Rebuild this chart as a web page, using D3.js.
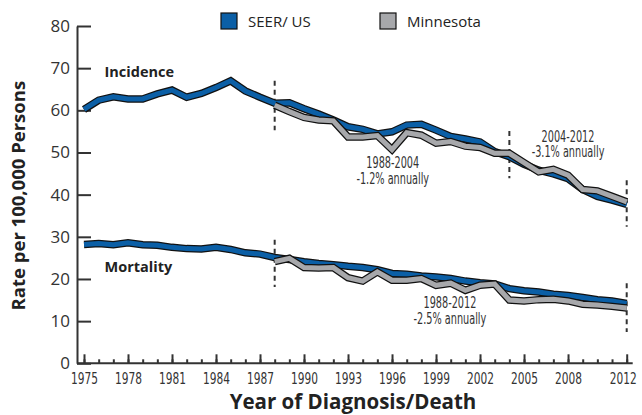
<!DOCTYPE html>
<html>
<head>
<meta charset="utf-8">
<script src="https://cdn.jsdelivr.net/npm/d3@7"></script>
<style>
  body { margin: 0; background: #fff; }
  svg { display: block; }
  .tick text { fill: #333; }
</style>
</head>
<body>
<div id="chart"></div>
<script>
// Years on the x axis
var years = [1975, 1976, 1977, 1978, 1979, 1980, 1981, 1982, 1983, 1984, 1985, 1986, 1987,
  1988, 1989, 1990, 1991, 1992, 1993, 1994, 1995, 1996, 1997, 1998, 1999, 2000,
  2001, 2002, 2003, 2004, 2005, 2006, 2007, 2008, 2009, 2010, 2011, 2012]
var mnYears = years.slice(13) // Minnesota series start in 1988

// Rates per 100,000
var usIncidence = [60.2, 62.4, 63.2, 62.7, 62.7, 63.9, 64.8, 63.1, 64.0, 65.4, 67.0, 64.6, 63.1,
  61.7, 61.8, 60.4, 59.1, 57.7, 56.1, 55.5, 54.4, 54.9, 56.5, 56.7, 55.3, 53.8,
  53.2, 52.5, 50.2, 49.0, 47.2, 45.8, 44.9, 43.8, 41.2, 39.6, 38.7, 37.7]
var mnIncidence = [61.2, 59.7, 58.3, 57.7, 57.5, 53.7, 53.7, 54.0, 50.7, 54.7, 54.1, 52.2, 52.6,
  51.5, 51.2, 49.8, 49.8, 47.6, 45.4, 46.0, 44.6, 41.2, 40.9, 39.6, 38.3]
var usMortality = [28.2, 28.4, 28.1, 28.6, 28.1, 28.0, 27.5, 27.2, 27.1, 27.5, 27.0, 26.2, 25.9,
  25.1, 24.6, 24.1, 23.7, 23.4, 23.0, 22.7, 22.2, 21.3, 21.1, 20.7, 20.5, 20.1,
  19.5, 19.1, 18.8, 17.7, 17.2, 16.9, 16.4, 16.1, 15.6, 15.1, 14.8, 14.2]
var mnMortality = [24.1, 24.9, 22.7, 22.6, 22.7, 20.3, 19.5, 21.7, 19.7, 19.7, 20.1, 18.5, 19.0,
  17.3, 18.5, 18.8, 15.0, 14.8, 15.1, 15.2, 14.8, 14.0, 13.8, 13.5, 13.1]

// Tick labels
var xTickYears = [1975, 1978, 1981, 1984, 1987, 1990, 1993, 1996, 1999, 2002, 2005, 2008, 2012]
var yTicks = [0, 10, 20, 30, 40, 50, 60, 70, 80]

// Trend break lines (year, top value, bottom value)
var breakYears = [1988, 2004, 2012, 1988, 2012]
var breakTop = [67.0, 55.1, 43.4, 29.3, 19.0]
var breakBottom = [55.3, 43.9, 32.4, 18.1, 7.4]

// Trend notes
var noteLines = [['1988-2004', '-1.2% annually'], ['2004-2012', '-3.1% annually'], ['1988-2012', '-2.5% annually']]
var noteYear = [1996.05, 2008.0, 1999.95]
var noteValue = [46.3, 52.5, 13.1]

var seriesNames = ['SEER/ US', 'Minnesota']
var blue = '#0b5fa6', grey = '#a7a8ab', ink = '#333'

var width = 642, height = 415
var svg = d3.select('#chart').append('svg')
  .attr('width', width)
  .attr('height', height)

var x = d3.scaleLinear().domain([1975, 2012]).range([84, 626.7])
var y = d3.scaleLinear().domain([0, 80]).range([363.3, 26])

var narrow = '"Liberation Sans Narrow", "DejaVu Sans Condensed", sans-serif'
var wide = '"Open Sans", "DejaVu Sans", sans-serif'

// condense a text around its anchor point with a horizontal scale
function condense(el, targetWidth) {
  var w = el.getComputedTextLength()
  var k = Math.min(1, targetWidth / w)
  d3.select(el).attr('transform', 'scale(' + k + ',1)')
  return k
}

// ---- axes ----
var xMinor = svg.append('g')
  .attr('transform', 'translate(0,' + y(0) + ')')
  .call(d3.axisBottom(x).tickValues(years).tickSize(-4).tickFormat(''))
xMinor.select('.domain').remove()

var xMajor = svg.append('g')
  .attr('transform', 'translate(0,' + y(0) + ')')
  .call(d3.axisBottom(x).tickValues(xTickYears).tickSize(-9).tickPadding(9).tickFormat(d3.format('d')))
xMajor.select('.domain').remove()
xMajor.selectAll('text')
  .style('font-family', narrow).style('font-size', '16px')
  .each(function (d) {
    var k = condense(this, 27)
    // last label sits a little left of its tick, as in the original
    if (d === 2012) d3.select(this).attr('x', -4 / k)
  })

svg.selectAll('.tick line').attr('stroke', ink).attr('stroke-width', 2)

// x axis base line
svg.append('line')
  .attr('x1', x(1975) - 7).attr('x2', x(2012) + 6)
  .attr('y1', y(0)).attr('y2', y(0))
  .attr('stroke', ink).attr('stroke-width', 2)

var yAxis = svg.append('g')
  .attr('transform', 'translate(' + (x(1975) - 7) + ',0)')
  .call(d3.axisLeft(y).tickValues(yTicks).tickSize(-14).tickPadding(7).tickSizeOuter(0))
yAxis.select('.domain').attr('stroke', ink).attr('stroke-width', 2)
yAxis.selectAll('line').attr('stroke', ink).attr('stroke-width', 2)
yAxis.selectAll('text').style('font-family', wide).style('font-size', '17px')

// axis titles
svg.append('text')
  .attr('transform', 'translate(25,' + (y(40) + 1) + ') rotate(-90)')
  .attr('text-anchor', 'middle')
  .style('font-family', wide).style('font-weight', 'bold').style('font-size', '18.5px')
  .attr('fill', '#222')
  .text('Rate per 100,000 Persons')

svg.append('text')
  .attr('x', 353).attr('y', 409)
  .attr('text-anchor', 'middle')
  .style('font-family', wide).style('font-weight', 'bold').style('font-size', '20.5px')
  .attr('fill', '#222')
  .text('Year of Diagnosis/Death')

// ---- dashed trend breaks ----
svg.selectAll('.break')
  .data(breakYears)
  .enter()
  .append('line')
  .attr('class', 'break')
  .attr('x1', function (d) { return x(d) })
  .attr('x2', function (d) { return x(d) })
  .attr('y1', function (d, i) { return y(breakTop[i]) })
  .attr('y2', function (d, i) { return y(breakBottom[i]) })
  .attr('stroke', ink)
  .attr('stroke-width', 2)
  .attr('stroke-dasharray', '5,4')

// ---- lines: black outline with a coloured core ----
var line = d3.line()
  .x(function (d) { return x(d[0]) })
  .y(function (d) { return y(d[1]) })

function drawSeries(xs, vals, colour) {
  var pts = xs.map(function (yr, i) { return [yr, vals[i]] })
  svg.append('path').datum(pts).attr('d', line)
    .attr('fill', 'none').attr('stroke', '#111').attr('stroke-width', 7.5)
  svg.append('path').datum(pts).attr('d', line)
    .attr('fill', 'none').attr('stroke', colour).attr('stroke-width', 5)
}

drawSeries(years, usIncidence, blue)
drawSeries(mnYears, mnIncidence, grey)
drawSeries(years, usMortality, blue)
drawSeries(mnYears, mnMortality, grey)

// ---- labels ----
svg.append('text').attr('x', x(1976.4)).attr('y', y(68))
  .style('font-family', wide).style('font-weight', 'bold').style('font-size', '14.5px')
  .attr('fill', '#222').text('Incidence')
svg.append('text').attr('x', x(1976.4)).attr('y', y(21.7))
  .style('font-family', wide).style('font-weight', 'bold').style('font-size', '14.5px')
  .attr('fill', '#222').text('Mortality')

noteLines.forEach(function (lines, i) {
  lines.forEach(function (s, j) {
    var g = svg.append('g')
      .attr('transform', 'translate(' + x(noteYear[i]) + ',' + (y(noteValue[i]) + j * 15.5) + ')')
    var t = g.append('text')
      .attr('text-anchor', 'middle')
      .style('font-family', narrow).style('font-size', '15px')
      .attr('fill', ink)
      .text(s)
    condense(t.node(), t.node().getComputedTextLength() * 0.72)
  })
})

// ---- legend ----
var legend = svg.append('g')
var legendX = [221, 380]
seriesNames.forEach(function (name, i) {
  legend.append('rect')
    .attr('x', legendX[i]).attr('y', 13)
    .attr('width', 16).attr('height', 16)
    .attr('fill', i === 0 ? blue : grey)
    .attr('stroke', '#111').attr('stroke-width', 1.2)
  legend.append('text')
    .attr('x', legendX[i] + 27).attr('y', 27)
    .style('font-family', wide).style('font-size', '15px')
    .attr('fill', '#222')
    .text(name)
})
</script>
</body>
</html>
